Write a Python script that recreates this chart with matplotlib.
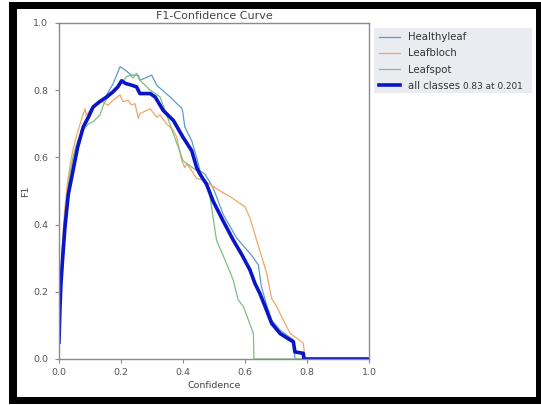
import matplotlib
matplotlib.use("Agg")
import matplotlib.pyplot as plt
from matplotlib.patches import Rectangle

# ---- data ----
healthy_x = [0, 0.005, 0.012, 0.02, 0.03, 0.045, 0.06, 0.08, 0.1, 0.12, 0.15, 0.175, 0.197, 0.213,
             0.234, 0.255, 0.262, 0.275, 0.299, 0.315, 0.358, 0.396, 0.399, 0.406, 0.428, 0.444,
             0.455, 0.471, 0.497, 0.53, 0.573, 0.62, 0.643, 0.653, 0.67, 0.686, 0.713, 0.756,
             0.761, 1.0]
healthy_y = [0.05, 0.2, 0.32, 0.42, 0.5, 0.58, 0.64, 0.7, 0.735, 0.76, 0.78, 0.82, 0.87, 0.86,
             0.845, 0.845, 0.83, 0.835, 0.845, 0.815, 0.78, 0.746, 0.736, 0.69, 0.65, 0.6,
             0.56, 0.55, 0.51, 0.43, 0.36, 0.31, 0.28, 0.215, 0.16, 0.116, 0.086, 0.057,
             0.0, 0.0]

bloch_x = [0, 0.004, 0.01, 0.018, 0.028, 0.04, 0.052, 0.065, 0.075, 0.084, 0.088, 0.1, 0.12,
           0.132, 0.158, 0.174, 0.197, 0.206, 0.223, 0.234, 0.245, 0.256, 0.261, 0.294, 0.315,
           0.326, 0.347, 0.369, 0.38, 0.396, 0.406, 0.412, 0.423, 0.444, 0.465, 0.52, 0.552,
           0.6, 0.616, 0.637, 0.67, 0.686, 0.702, 0.745, 0.788, 0.794, 1.0]
bloch_y = [0.05, 0.2, 0.33, 0.44, 0.53, 0.6, 0.65, 0.69, 0.72, 0.745, 0.725, 0.74, 0.76,
           0.77, 0.755, 0.77, 0.786, 0.766, 0.77, 0.756, 0.76, 0.716, 0.73, 0.745, 0.72,
           0.726, 0.70, 0.68, 0.66, 0.59, 0.57, 0.58, 0.568, 0.537, 0.533, 0.50, 0.483,
           0.453, 0.42, 0.355, 0.255, 0.18, 0.156, 0.077, 0.047, 0.0, 0.0]

spot_x = [0, 0.004, 0.01, 0.018, 0.03, 0.045, 0.06, 0.078, 0.095, 0.11, 0.132, 0.145, 0.158,
          0.18, 0.2, 0.218, 0.229, 0.239, 0.25, 0.26, 0.272, 0.294, 0.326, 0.35, 0.369, 0.385,
          0.40, 0.43, 0.455, 0.482, 0.492, 0.508, 0.54, 0.562, 0.578, 0.595, 0.627, 0.629, 1.0]
spot_y = [0.05, 0.2, 0.32, 0.42, 0.52, 0.6, 0.65, 0.68, 0.70, 0.706, 0.726, 0.76, 0.78,
          0.80, 0.82, 0.84, 0.845, 0.836, 0.85, 0.83, 0.82, 0.80, 0.78, 0.72, 0.67, 0.63,
          0.59, 0.57, 0.553, 0.513, 0.453, 0.354, 0.285, 0.235, 0.176, 0.156, 0.076, 0.0, 0.0]

all_x = [0, 0.003, 0.006, 0.011, 0.019, 0.03, 0.045, 0.06, 0.078, 0.095, 0.11, 0.13, 0.154,
         0.174, 0.19, 0.202, 0.215, 0.234, 0.25, 0.261, 0.294, 0.31, 0.336, 0.369, 0.40,
         0.428, 0.444, 0.455, 0.476, 0.497, 0.53, 0.562, 0.59, 0.616, 0.632, 0.648, 0.665,
         0.686, 0.713, 0.74, 0.756, 0.761, 0.788, 0.79, 1.0]
all_y = [0.05, 0.15, 0.22, 0.29, 0.39, 0.49, 0.56, 0.63, 0.69, 0.72, 0.75, 0.765, 0.78,
         0.795, 0.81, 0.828, 0.82, 0.815, 0.81, 0.79, 0.79, 0.78, 0.74, 0.71, 0.66,
         0.62, 0.57, 0.55, 0.52, 0.47, 0.41, 0.354, 0.31, 0.265, 0.225, 0.195, 0.156,
         0.106, 0.076, 0.06, 0.051, 0.021, 0.017, 0.0, 0.0]

class_names = ["Healthyleaf", "Leafbloch", "Leafspot"]
all_label = "all classes"
all_note = "0.83 at 0.201"
ticks = [0.0, 0.2, 0.4, 0.6, 0.8, 1.0]

# ---- figure ----
W, H = 541, 405
fig = plt.figure(figsize=(W / 100, H / 100), dpi=100)
fig.patch.set_facecolor("white")


def rect_px(x0, y0, x1, y1, **kw):
    return Rectangle((x0 / W, 1 - y1 / H), (x1 - x0) / W, (y1 - y0) / H,
                     transform=fig.transFigure, **kw)


ax = fig.add_axes([59 / W, 1 - 359 / H, 310 / W, 336 / H])
gray = "#8a8a8a"
for s in ax.spines.values():
    s.set_color(gray)
    s.set_linewidth(1.0)

ax.plot(healthy_x, healthy_y, color="#5f9acb", lw=0.9, label=class_names[0])
ax.plot(bloch_x, bloch_y, color="#eea866", lw=0.9, label=class_names[1])
ax.plot(spot_x, spot_y, color="#7cbf80", lw=0.9, label=class_names[2])
ax.plot(all_x, all_y, color="#0a14c8", lw=2.6, label=all_label)

ax.set_xlim(0, 1)
ax.set_ylim(0, 1)
ax.set_xticks(ticks)
ax.set_yticks(ticks)
ax.set_xticklabels([f"{t:.1f}" for t in ticks])
ax.set_yticklabels([f"{t:.1f}" for t in ticks])
ax.tick_params(colors=gray, labelcolor="#555555", labelsize=6.8, length=3, width=0.8)
ax.tick_params(axis="y", pad=5)
ax.set_xlabel("Confidence", fontsize=6.8, color="#444444", labelpad=3)
ax.set_ylabel("F1", fontsize=6.8, color="#444444", labelpad=2)
ax.set_title("F1-Confidence Curve", fontsize=8.0, color="#444444", pad=3)

# legend background
fig.patches.append(rect_px(374, 28, 532, 93, facecolor="#ebebf2", edgecolor="none", zorder=1))

handles, labels = ax.get_legend_handles_labels()
leg = fig.legend(handles, labels, loc="upper left",
                 bbox_to_anchor=(375 / W, 1 - 28 / H), bbox_transform=fig.transFigure,
                 fontsize=7.3, frameon=False, handlelength=2.1,
                 handletextpad=0.75, labelspacing=0.62, borderpad=0.4, borderaxespad=0)
for t in leg.get_texts():
    t.set_color("#333333")

# black frame
for (x0, y0, x1, y1) in [(9, 2, 541, 9), (9, 2, 17, 404), (9, 397, 541, 404), (536, 2, 541, 404)]:
    fig.patches.append(rect_px(x0, y0, x1, y1, facecolor="black", edgecolor="none", zorder=10))

# smaller annotation after "all classes"
fig.canvas.draw()
r = fig.canvas.get_renderer()
bb = leg.get_texts()[3].get_window_extent(r)
fig.text((bb.x1 + 3) / W, (bb.y0 + 2.4) / H, all_note, fontsize=6.4, color="#333333",
         ha="left", va="baseline", zorder=6)

fig.savefig("out.png", dpi=100)
